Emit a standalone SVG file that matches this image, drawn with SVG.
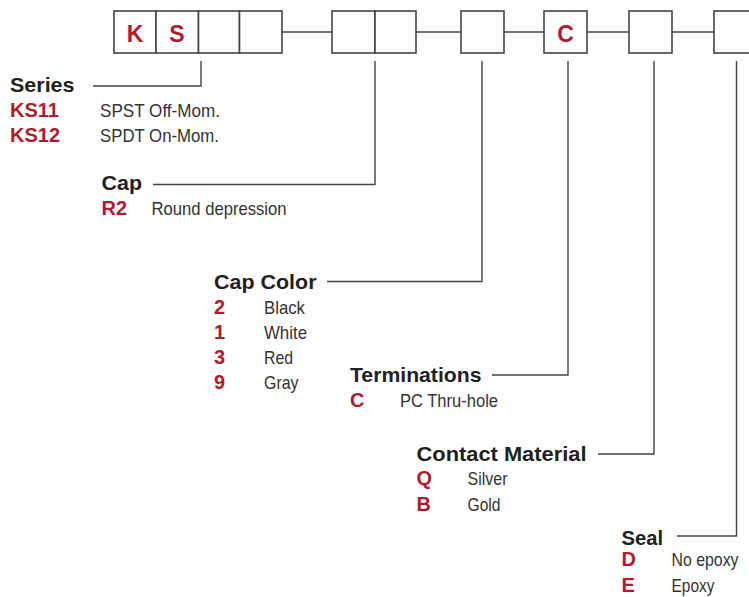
<svg xmlns="http://www.w3.org/2000/svg" width="749" height="597" viewBox="0 0 749 597">
<style>
.box{fill:#fff;stroke:#444;stroke-width:1.6}
.ln{fill:none;stroke:#444;stroke-width:1.4}
.h{font-family:"Liberation Sans",Arial,sans-serif;font-weight:bold;font-size:20.5px;fill:#231f20}
.c{font-family:"Liberation Sans",Arial,sans-serif;font-weight:bold;font-size:20px;fill:#b01c2e}
.bl{font-family:"Liberation Sans",Arial,sans-serif;font-weight:bold;font-size:23px;fill:#b01c2e;text-anchor:middle}
.d{font-family:"Liberation Sans",Arial,sans-serif;font-size:18.5px;fill:#333}
</style>
<rect width="749" height="597" fill="#fff"/>
<g id="connectors">
<path class="ln" d="M282,32H332M416,32H461M504,32H544M587,32H629M672,32H714"/>
<path class="ln" d="M201,61V86H93"/>
<path class="ln" d="M375,61V184.5H153"/>
<path class="ln" d="M482,61V281.5H327"/>
<path class="ln" d="M568,61V375H492"/>
<path class="ln" d="M654,61V454H598"/>
<path class="ln" d="M736.5,61V536H677"/>
</g>
<g id="code-boxes">
<rect class="box" x="114" y="11" width="42" height="42"/>
<rect class="box" x="156" y="11" width="42.5" height="42"/>
<rect class="box" x="198.5" y="11" width="41" height="42"/>
<rect class="box" x="239.5" y="11" width="42.5" height="42"/>
<rect class="box" x="332" y="11" width="43" height="42"/>
<rect class="box" x="375" y="11" width="41" height="42"/>
<rect class="box" x="461" y="11" width="43" height="42"/>
<rect class="box" x="544" y="11" width="43" height="42"/>
<rect class="box" x="629" y="11" width="43" height="42"/>
<rect class="box" x="714" y="11" width="43" height="42"/>
<text class="bl" x="135" y="41.5">K</text>
<text class="bl" x="177" y="41.5">S</text>
<text class="bl" x="565.5" y="41.5">C</text>
</g>
<g id="series">
<text class="h" x="10" y="92" textLength="64.5" lengthAdjust="spacingAndGlyphs">Series</text>
<text class="c" x="10" y="117">KS11</text>
<text class="d" x="100" y="117" textLength="120" lengthAdjust="spacingAndGlyphs">SPST Off-Mom.</text>
<text class="c" x="10" y="141.5">KS12</text>
<text class="d" x="100" y="141.5" textLength="119" lengthAdjust="spacingAndGlyphs">SPDT On-Mom.</text>
</g>
<g id="cap">
<text class="h" x="101.5" y="190" textLength="40.5" lengthAdjust="spacingAndGlyphs">Cap</text>
<text class="c" x="101.5" y="215">R2</text>
<text class="d" x="151.5" y="215" textLength="135" lengthAdjust="spacingAndGlyphs">Round depression</text>
</g>
<g id="cap-color">
<text class="h" x="214" y="289" textLength="102.5" lengthAdjust="spacingAndGlyphs">Cap Color</text>
<text class="c" x="214" y="314">2</text>
<text class="d" x="264" y="314" textLength="41" lengthAdjust="spacingAndGlyphs">Black</text>
<text class="c" x="214" y="339">1</text>
<text class="d" x="264" y="339" textLength="43" lengthAdjust="spacingAndGlyphs">White</text>
<text class="c" x="214" y="364">3</text>
<text class="d" x="264" y="364" textLength="29" lengthAdjust="spacingAndGlyphs">Red</text>
<text class="c" x="214" y="389">9</text>
<text class="d" x="264" y="389" textLength="34.5" lengthAdjust="spacingAndGlyphs">Gray</text>
</g>
<g id="terminations">
<text class="h" x="350" y="382" textLength="131.5" lengthAdjust="spacingAndGlyphs">Terminations</text>
<text class="c" x="350" y="407">C</text>
<text class="d" x="400" y="407" textLength="98" lengthAdjust="spacingAndGlyphs">PC Thru-hole</text>
</g>
<g id="contact-material">
<text class="h" x="416.5" y="461" textLength="170" lengthAdjust="spacingAndGlyphs">Contact Material</text>
<text class="c" x="416.5" y="485">Q</text>
<text class="d" x="467.5" y="485" textLength="40" lengthAdjust="spacingAndGlyphs">Silver</text>
<text class="c" x="416.5" y="510.5">B</text>
<text class="d" x="467.5" y="510.5" textLength="33" lengthAdjust="spacingAndGlyphs">Gold</text>
</g>
<g id="seal">
<text class="h" x="621.5" y="545" textLength="41.5" lengthAdjust="spacingAndGlyphs">Seal</text>
<text class="c" x="621.5" y="565.5">D</text>
<text class="d" x="671.5" y="565.5" textLength="67" lengthAdjust="spacingAndGlyphs">No epoxy</text>
<text class="c" x="621.5" y="591.5">E</text>
<text class="d" x="671.5" y="591.5" textLength="43" lengthAdjust="spacingAndGlyphs">Epoxy</text>
</g>
</svg>
